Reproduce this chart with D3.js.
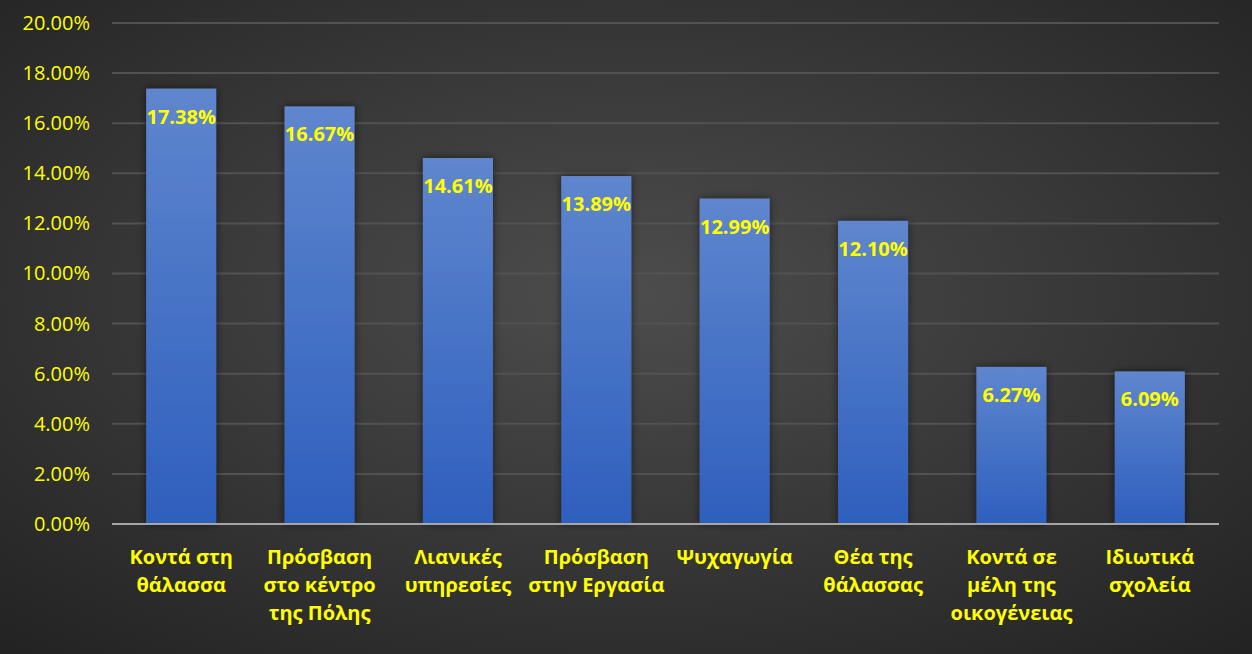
<!DOCTYPE html>
<meta charset="utf-8">
<head>
  <title>Bar chart</title>
</head>

<style>
body {
  margin: 0;
  background: #2a2a2a;
}

svg text {
  font-family: "Open Sans", "Noto Sans", sans-serif;
  fill: #ffff00;
}

.grid line {
  stroke: #525252;
  stroke-width: 2px;
}

.x-labels text {
  font-size: 20px;
  font-weight: bold;
}

.bar-labels text {
  font-size: 20px;
  font-weight: bold;
}

.baseline {
  stroke: #a6a6a6;
  stroke-width: 2px;
}
</style>

<body>
  <svg width="1252" height="654"></svg>

  <script src="https://cdnjs.cloudflare.com/ajax/libs/d3/7.8.5/d3.min.js"></script>

  <script>
var categories = [
  'Κοντά στη\nθάλασσα',
  'Πρόσβαση\nστο κέντρο\nτης Πόλης',
  'Λιανικές\nυπηρεσίες',
  'Πρόσβαση\nστην Εργασία',
  'Ψυχαγωγία',
  'Θέα της\nθάλασσας',
  'Κοντά σε\nμέλη της\nοικογένειας',
  'Ιδιωτικά\nσχολεία'
];
var values = [17.38, 16.67, 14.61, 13.89, 12.99, 12.10, 6.27, 6.09];
var yTicks = [0, 2, 4, 6, 8, 10, 12, 14, 16, 18, 20];

var width = 1252, height = 654;
var margin = {top: 23, right: 33, bottom: 130, left: 112};

var svg = d3.select('svg');
var defs = svg.append('defs');

// background
var bg = defs.append('radialGradient')
  .attr('id', 'bg')
  .attr('cx', '50%').attr('cy', '45%').attr('r', '75%');
bg.append('stop').attr('offset', '0%').attr('stop-color', '#4d4d4d');
bg.append('stop').attr('offset', '100%').attr('stop-color', '#222');

svg.append('rect')
  .attr('width', width)
  .attr('height', height)
  .attr('fill', 'url(#bg)');

var barGrad = defs.append('linearGradient')
  .attr('id', 'barGrad')
  .attr('x1', 0).attr('y1', 0).attr('x2', 0).attr('y2', 1);
barGrad.append('stop').attr('offset', '0%').attr('stop-color', '#5f86ce');
barGrad.append('stop').attr('offset', '100%').attr('stop-color', '#2e5fbd');

var shadow = defs.append('filter')
  .attr('id', 'shadow')
  .attr('x', '-30%').attr('y', '-10%').attr('width', '160%').attr('height', '120%');
shadow.append('feDropShadow')
  .attr('dx', 0).attr('dy', 0).attr('stdDeviation', 4)
  .attr('flood-color', '#000').attr('flood-opacity', 0.55);

var x = d3.scaleBand()
  .domain(categories)
  .range([margin.left, width - margin.right])
  .paddingInner(0.494)
  .paddingOuter(0.247);

var y = d3.scaleLinear()
  .domain([0, 20])
  .range([height - margin.bottom, margin.top]);

// grid
svg.append('g')
  .attr('class', 'grid')
  .selectAll('line')
  .data(yTicks.slice(1))
  .enter()
  .append('line')
  .attr('x1', margin.left)
  .attr('x2', width - margin.right)
  .attr('y1', function(d) { return y(d); })
  .attr('y2', function(d) { return y(d); });

// y axis labels
var yAxis = d3.axisLeft(y)
  .tickValues(yTicks)
  .tickSize(0)
  .tickPadding(22)
  .tickFormat(function(d) { return d.toFixed(2) + '%'; });

svg.append('g')
  .attr('class', 'y-axis')
  .attr('transform', 'translate(' + margin.left + ',0)')
  .call(yAxis)
  .call(function(g) { g.select('.domain').remove(); })
  .selectAll('text')
  .attr('fill', '#ffff00')
  .style('font-family', '"Open Sans", "Noto Sans", sans-serif')
  .style('font-size', '20px');

// bars
svg.append('g')
  .selectAll('rect')
  .data(values)
  .enter()
  .append('rect')
  .attr('x', function(d, i) { return x(categories[i]); })
  .attr('y', function(d) { return y(d); })
  .attr('width', x.bandwidth())
  .attr('height', function(d) { return y(0) - y(d); })
  .attr('fill', 'url(#barGrad)')
  .attr('filter', 'url(#shadow)');

// baseline
svg.append('line')
  .attr('class', 'baseline')
  .attr('x1', margin.left)
  .attr('x2', width - margin.right)
  .attr('y1', y(0))
  .attr('y2', y(0));

// bar value labels
svg.append('g')
  .attr('class', 'bar-labels')
  .selectAll('text')
  .data(values)
  .enter()
  .append('text')
  .attr('x', function(d, i) { return x(categories[i]) + x.bandwidth() / 2; })
  .attr('y', function(d) { return y(d) + 35; })
  .attr('text-anchor', 'middle')
  .text(function(d) { return d.toFixed(2) + '%'; });

// category labels
var xl = svg.append('g')
  .attr('class', 'x-labels')
  .selectAll('text')
  .data(categories)
  .enter()
  .append('text')
  .attr('text-anchor', 'middle')
  .attr('x', function(d) { return x(d) + x.bandwidth() / 2; })
  .attr('y', y(0) + 40);

xl.selectAll('tspan')
  .data(function(d) { return d.split('\n'); })
  .enter()
  .append('tspan')
  .attr('x', function() { return d3.select(this.parentNode).attr('x'); })
  .attr('dy', function(d, i) { return i === 0 ? 0 : 28; })
  .text(function(d) { return d; });
  </script>
</body>
</html>
